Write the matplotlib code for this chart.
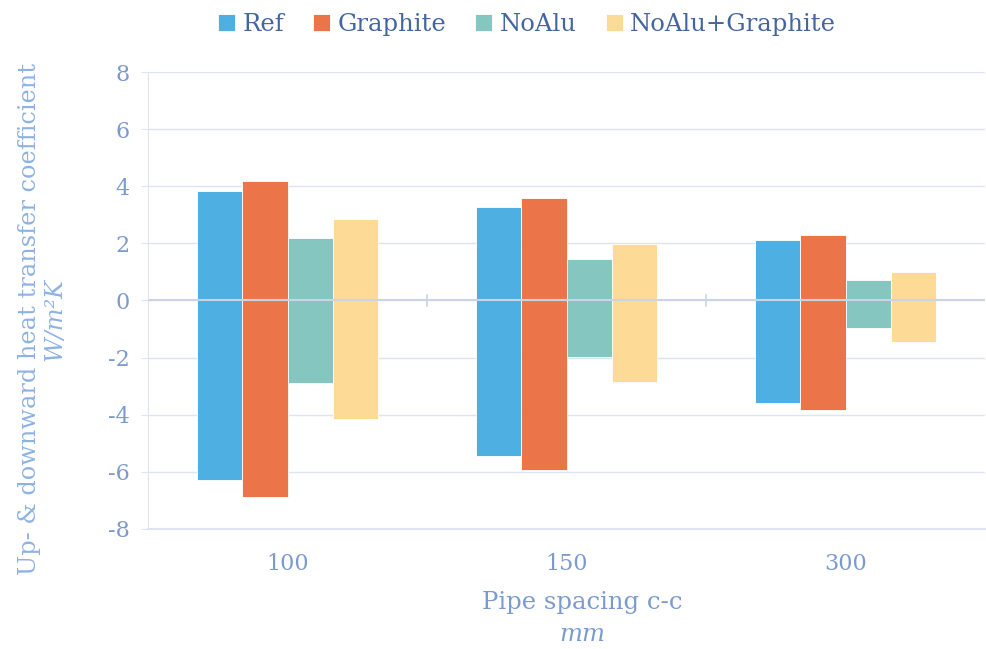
import matplotlib.pyplot as plt
import numpy as np

plt.rcParams['font.family'] = ['DejaVu Serif']

categories = ["100", "150", "300"]
series = ["Ref", "Graphite", "NoAlu", "NoAlu+Graphite"]
colors = ["#4DAFE2", "#EB7548", "#86C6C1", "#FDDA96"]

# upward (positive) and downward (negative) coefficients, W/m2K
up = {
    "Ref":            [3.83, 3.27, 2.12],
    "Graphite":       [4.18, 3.59, 2.29],
    "NoAlu":          [2.19, 1.45, 0.72],
    "NoAlu+Graphite": [2.85, 1.98, 1.00],
}
down = {
    "Ref":            [-6.28, -5.44, -3.59],
    "Graphite":       [-6.88, -5.93, -3.83],
    "NoAlu":          [-2.89, -1.98, -0.96],
    "NoAlu+Graphite": [-4.15, -2.85, -1.45],
}

tick_col = "#7B9BCF"
grid_col = "#DDE3F0"

fig = plt.figure(figsize=(9.87, 6.49), dpi=100)
ax = fig.add_axes([0.150, 0.185, 0.848, 0.704])

x = np.arange(len(categories))
w = 0.1625
for k, s in enumerate(series):
    xs = x + (k - 1.5) * w
    ax.bar(xs, up[s], w, color=colors[k], edgecolor="white", linewidth=0.6,
           label=s, zorder=2)
    ax.bar(xs, down[s], w, color=colors[k], edgecolor="white", linewidth=0.6,
           zorder=2)

ax.set_xlim(-0.5, 2.5)
ax.set_ylim(-8, 8)
ax.set_yticks(np.arange(-8, 9, 2))
ax.yaxis.grid(True, color=grid_col, linewidth=1, zorder=0)
ax.axhline(-8, color=grid_col, linewidth=1.5, clip_on=False, zorder=0)
ax.set_axisbelow(True)

for sp in ["top", "right", "bottom"]:
    ax.spines[sp].set_visible(False)
ax.spines["left"].set_color(grid_col)

# zero line with category boundary ticks
ax.axhline(0, color="#CBD3E6", linewidth=1.5, zorder=3)
for b in [0.5, 1.5]:
    ax.plot([b, b], [-0.2, 0.2], color="#CBD3E6", linewidth=1.2, zorder=3)

ax.set_xticks(x)
ax.set_xticklabels(categories)
ax.tick_params(axis="x", length=0, pad=17, labelsize=16, labelcolor=tick_col)
ax.tick_params(axis="y", length=5, color=grid_col, labelsize=16,
               labelcolor=tick_col, pad=8)
ax.set_yticklabels([str(v) for v in range(-8, 9, 2)])

fig.text(0.030, 0.508, "Up- & downward heat transfer coefficient",
         rotation=90, ha="center", va="center", fontsize=17.3, color="#8DB3E2")
fig.text(0.056, 0.508, "W/m²K", rotation=90, ha="center", va="center",
         fontsize=17.3, color="#8DB3E2", style="italic")
fig.text(0.590, 0.072, "Pipe spacing c-c", ha="center", va="center",
         fontsize=17.5, color=tick_col)
fig.text(0.590, 0.022, "mm", ha="center", va="center", fontsize=17.5,
         color=tick_col, style="italic")

leg = fig.legend(loc="upper center", bbox_to_anchor=(0.534, 1.014), ncol=4,
                 frameon=False, fontsize=17.5, handlelength=0.7,
                 handleheight=0.7, handletextpad=0.3, columnspacing=1.2)
for t in leg.get_texts():
    t.set_color("#4466A0")

fig.savefig("out.png", dpi=100)
